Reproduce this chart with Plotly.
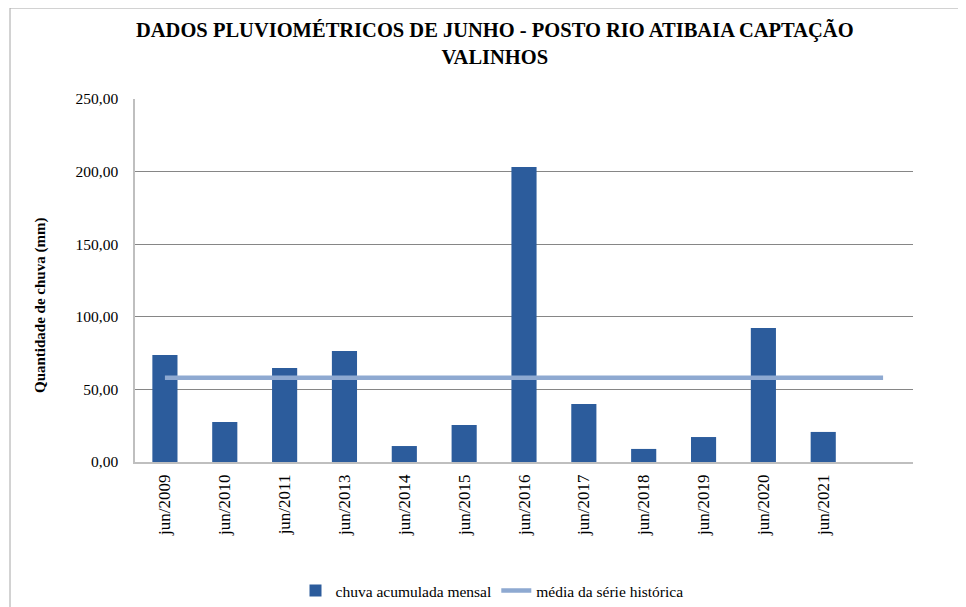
import plotly.graph_objects as go

categorias = ["jun/2009", "jun/2010", "jun/2011", "jun/2013", "jun/2014", "jun/2015",
              "jun/2016", "jun/2017", "jun/2018", "jun/2019", "jun/2020", "jun/2021"]
chuva = [73.7, 27.5, 64.7, 76.4, 11.0, 25.5, 203.2, 40.0, 9.0, 17.2, 92.3, 20.7]
media_historica = 58.1
n_slots = len(categorias) + 1  # one empty slot at the end, as in the original

W, H = 966, 607
OFF = 8  # page body margin offset
SL, SR, ST, SB = 135, 913, 99, 462   # target screen-pixel plot box
L, R, T, B = SL - OFF, SR - OFF, ST - OFF, SB - OFF

xs = list(range(len(categorias)))
x_media = list(range(n_slots))
y_media = [media_historica] * n_slots

FONT = "Liberation Serif, Times New Roman, serif"

fig = go.Figure()
fig.add_trace(go.Bar(
    x=xs, y=chuva, name="chuva acumulada mensal",
    marker=dict(color="#2C5C9C", line=dict(width=0)),
    width=0.42,
))
fig.add_trace(go.Scatter(
    x=x_media, y=y_media, name="média da série histórica", mode="lines",
    line=dict(color="#8EA9D1", width=4.5),
))

def px_x(p):
    return (p - SL) / (SR - SL)

def px_y(p):
    return (SB - p) / (SB - ST)

fig.update_layout(
    width=W, height=H,
    margin=dict(l=L, r=W - R, t=T, b=H - B, autoexpand=False),
    paper_bgcolor="white", plot_bgcolor="white",
    font=dict(family=FONT, size=15, color="#000000"),
    separators=",.",
    legend=dict(
        orientation="h", x=px_x(492), xanchor="center", y=px_y(591), yanchor="middle",
        font=dict(family=FONT, size=15.5, color="#000000"), bgcolor="rgba(0,0,0,0)",
        traceorder="normal",
    ),
    bargap=0.58,
)

fig.update_xaxes(
    range=[-0.5, n_slots - 0.5], automargin=False,
    tickmode="array", tickvals=xs, ticktext=categorias, tickangle=-90,
    showgrid=False, zeroline=False,
    showline=True, linecolor="#BFBFBF", linewidth=1.5,
    ticks="", tickfont=dict(family=FONT, size=17, color="#000000"),
    ticklabelstandoff=4,
)
fig.update_yaxes(
    range=[0, 250], dtick=50, tickformat=".2f", automargin=False,
    showgrid=True, gridcolor="#868686", gridwidth=1,
    zeroline=False,
    showline=True, linecolor="#BFBFBF", linewidth=1.5,
    ticks="", tickfont=dict(family=FONT, size=15.5, color="#000000"),
    ticklabelstandoff=12,
)

fig.add_annotation(
    text="<b>DADOS PLUVIOMÉTRICOS DE JUNHO - POSTO RIO ATIBAIA CAPTAÇÃO<br>VALINHOS</b>",
    xref="paper", yref="paper", x=px_x(495), y=px_y(17),
    xanchor="center", yanchor="top", showarrow=False,
    font=dict(family=FONT, size=20.5, color="#000000"),
)
fig.add_annotation(
    text="<b>Quantidade de chuva (mm)</b>", textangle=-90,
    xref="paper", yref="paper", x=px_x(40), y=px_y(306),
    xanchor="center", yanchor="middle", showarrow=False,
    font=dict(family=FONT, size=15, color="#000000"),
)

# outer chart border
fig.add_shape(
    type="rect", xref="paper", yref="paper",
    x0=px_x(10), y0=px_y(H + 30), x1=px_x(W + 30), y1=px_y(8),
    line=dict(color="#A6A6A6", width=1), fillcolor="rgba(0,0,0,0)", layer="below",
)

fig.write_html("out.html")
